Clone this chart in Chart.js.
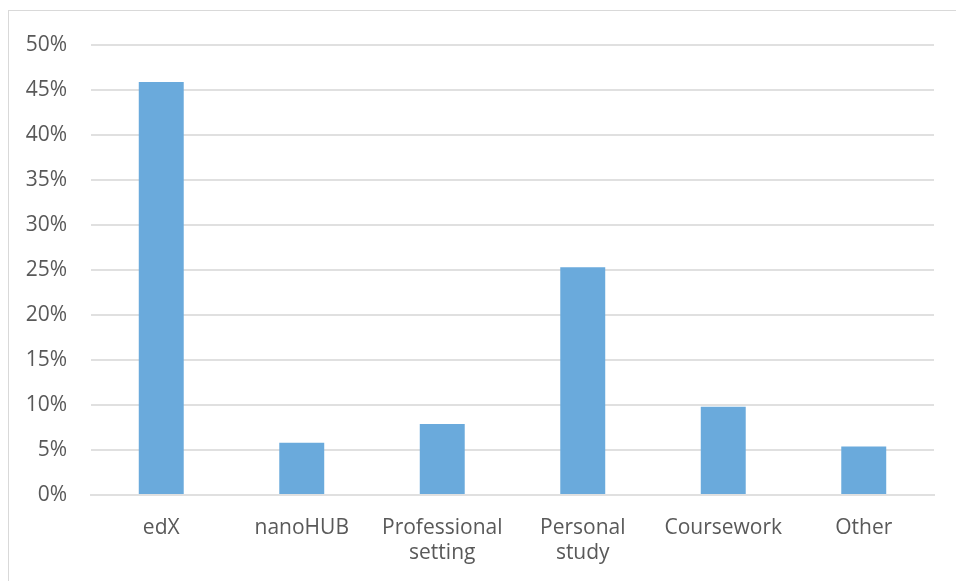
<!DOCTYPE html>
<html>
<head>
<meta charset="utf-8">
<script src="https://cdn.jsdelivr.net/npm/chart.js@4/dist/chart.umd.min.js"></script>
<style>
  html, body { margin: 0; padding: 0; background: #fff; }
  #wrap { position: relative; width: 956px; height: 581px; overflow: hidden; }
  #frame { position: absolute; left: 8px; top: 10px; width: 1000px; height: 700px; border: 1px solid #d9d9d9; box-sizing: border-box; }
  #c { position: absolute; left: 0; top: 0; }
</style>
</head>
<body>
<div id="wrap">
  <div id="frame"></div>
  <canvas id="c" width="956" height="581"></canvas>
</div>
<script>
const categories = ["edX", "nanoHUB", ["Professional", "setting"], ["Personal", "study"], "Coursework", "Other"];
const percentValues = [45.9, 5.8, 7.9, 25.3, 9.8, 5.4];
const yTicks = [0, 5, 10, 15, 20, 25, 30, 35, 40, 45, 50];

const FONT = "'Open Sans', sans-serif";
const TEXT = "#595959";
const GRID = "#e0e0e0";

new Chart(document.getElementById("c"), {
  type: "bar",
  data: {
    labels: categories,
    datasets: [{
      data: percentValues,
      backgroundColor: "#6AAADC",
      borderWidth: 0,
      categoryPercentage: 1,
      barPercentage: 0.32
    }]
  },
  options: {
    responsive: false,
    animation: false,
    devicePixelRatio: 1,
    layout: { padding: { left: 0, right: 22, top: 45, bottom: 0 } },
    plugins: { legend: { display: false }, tooltip: { enabled: false } },
    scales: {
      x: {
        grid: { display: false, drawTicks: false },
        border: { display: true, color: GRID, width: 2 },
        ticks: {
          color: TEXT, padding: 20, maxRotation: 0, autoSkip: false,
          font: { family: FONT, size: 21, lineHeight: 1.2 }
        },
        afterFit: s => { s.height = 86; }
      },
      y: {
        min: 0, max: 50,
        afterBuildTicks: s => { s.ticks = yTicks.map(v => ({ value: v })); },
        grid: { color: GRID, lineWidth: 2, drawTicks: false },
        border: { display: false },
        ticks: {
          color: TEXT, padding: 24,
          font: { family: FONT, size: 21 },
          callback: v => v + "%"
        },
        afterFit: s => { s.width = 91; }
      }
    }
  }
});
</script>
</body>
</html>
